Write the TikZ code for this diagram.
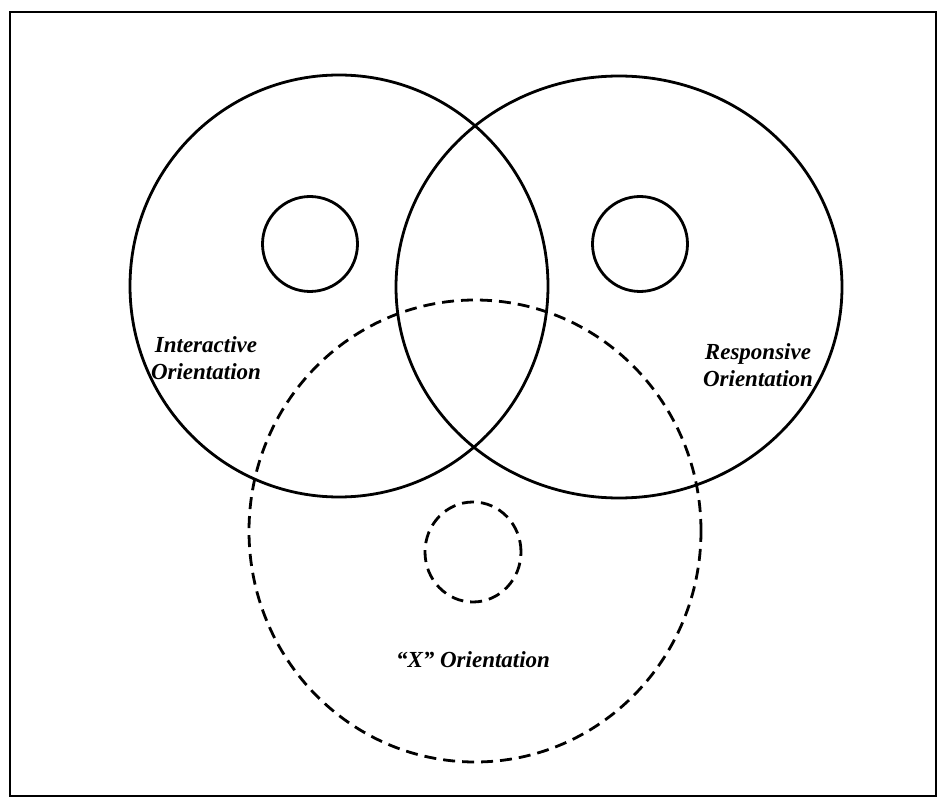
\documentclass[tikz,border=0pt]{standalone}
\usepackage{fontspec}
\setmainfont{Liberation Serif}
\usetikzlibrary{shapes.geometric}
\begin{document}
\begin{tikzpicture}[x=1pt,y=-1pt,
    ring/.style={draw, ellipse, line width=2.8pt, inner sep=0pt},
    dashring/.style={ring, dash pattern=on 12pt off 7pt},
    tag/.style={font=\fontsize{23}{27}\selectfont\bfseries\itshape, align=center}]

    \useasboundingbox (0,0) rectangle (939,799);
    \draw[line width=2pt] (10,12) rectangle (936,796);

    % Large circles
    \node[ring, minimum width=418pt, minimum height=422pt] (L) at (339,286) {};
    \node[ring, minimum width=446pt, minimum height=422pt] (R) at (619,287) {};
    \node[dashring, minimum width=452pt, minimum height=462pt] (X) at (475,531) {};

    % Small circles
    \node[ring, minimum size=95pt] (l) at (310,244) {};
    \node[ring, minimum size=95pt] (r) at (640,244) {};
    \node[dashring, minimum width=96pt, minimum height=100pt] (x) at (473,552) {};

    % Labels
    \node[tag] (Ltag) at (206,358) {Interactive\\Orientation};
    \node[tag] (Rtag) at (758,365) {Responsive\\Orientation};
    \node[tag] (Xtag) at (473,660) {``X'' Orientation};

\end{tikzpicture}
\end{document}
